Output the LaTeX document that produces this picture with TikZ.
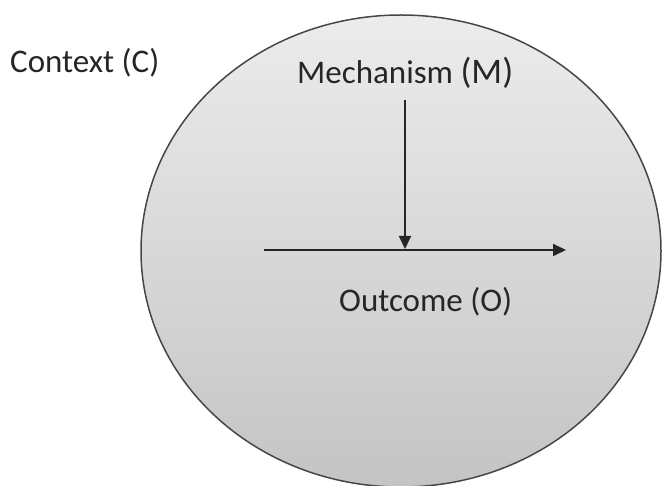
\documentclass[tikz,border=0pt]{standalone}
\usepackage{fontspec}
\setmainfont{Carlito}
\usetikzlibrary{arrows.meta}
\definecolor{rim}{RGB}{70,70,70}
\definecolor{ink}{RGB}{38,38,38}
\definecolor{fillTop}{RGB}{236,236,236}
\definecolor{fillBot}{RGB}{196,196,196}
\tikzset{
  label/.style={inner sep=0pt, anchor=base west, text=ink, font=\fontsize{33}{40}\selectfont},
  arr/.style={line width=1.8pt, draw=black!85, -{Triangle[length=13pt,width=12pt]}},
}
\begin{document}
\begin{tikzpicture}[x=1pt,y=-1pt]
  \useasboundingbox (0,0) rectangle (662,486);
  % context circle
  \begin{scope}
    \clip (0,0) rectangle (662,486);
    \shade[top color=fillTop, bottom color=fillBot, draw=rim, line width=1.5pt]
      (401,251) ellipse [x radius=260, y radius=236];
  \end{scope}
  % labels
  \node[label] (ctx) at (10,73) {Context (C)};
  \node[label] (mech) at (297,84) {Mechanism {\fontsize{36}{40}\selectfont(M)}};
  \node[label] (out) at (339,312) {Outcome (O)};
  % connectors
  \coordinate (hstart) at (264,250);
  \coordinate (hend) at (566,250);
  \coordinate (vtop) at (405,100);
  \coordinate (vbot) at (405,249);
  \draw[arr] (hstart) -- (hend);
  \draw[arr] (vtop) -- (vbot);
\end{tikzpicture}
\end{document}
